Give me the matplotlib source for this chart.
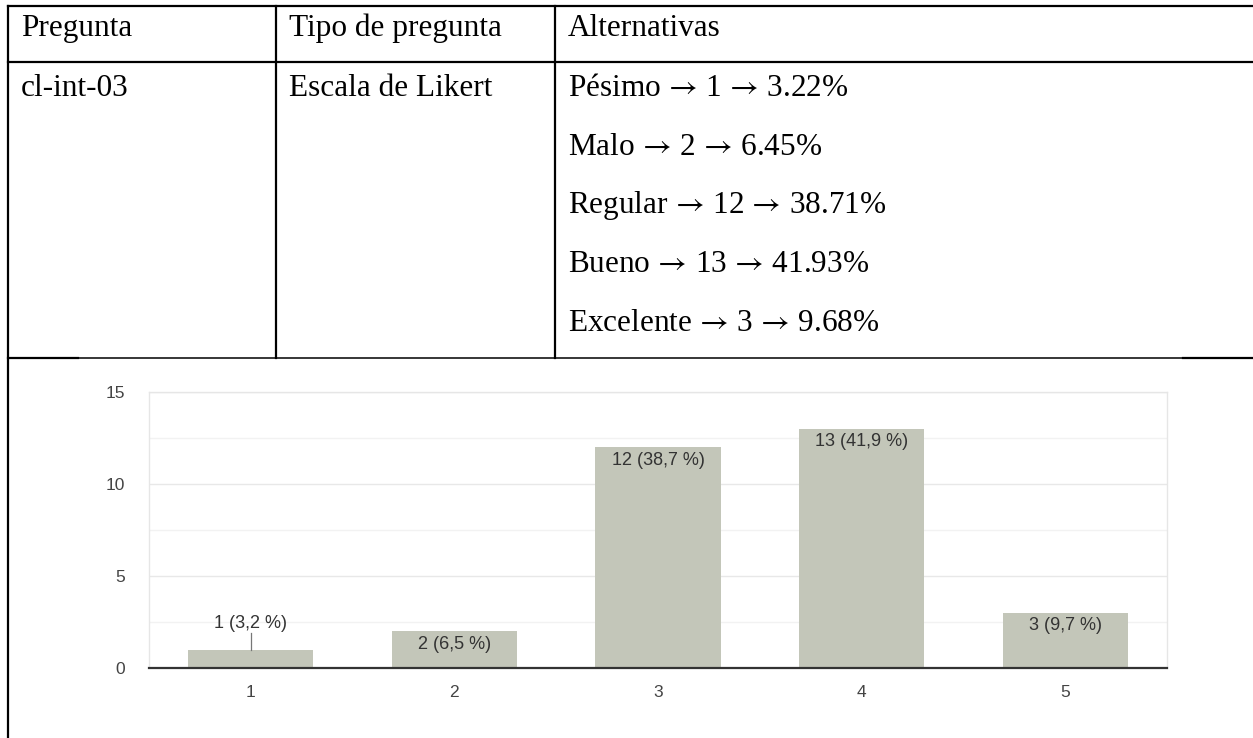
import matplotlib
matplotlib.use('Agg')
import matplotlib.pyplot as plt

plt.rcParams['mathtext.fontset'] = 'stix'

# table content
header = ["Pregunta", "Tipo de pregunta", "Alternativas"]
question_id = "cl-int-03"
question_type = "Escala de Likert"
alt_names = ["Pésimo", "Malo", "Regular", "Bueno", "Excelente"]
alt_counts = [1, 2, 12, 13, 3]
alt_percents = ["3.22", "6.45", "38.71", "41.93", "9.68"]

# chart content
categories = ["1", "2", "3", "4", "5"]
counts = [1, 2, 12, 13, 3]
chart_percents = ["3,2", "6,5", "38,7", "41,9", "9,7"]

W, H = 1253, 738
fig = plt.figure(figsize=(W / 100.0, H / 100.0), dpi=100)
fig.patch.set_facecolor('white')

serif = ['Liberation Serif', 'DejaVu Serif']
sans = ['Liberation Sans', 'DejaVu Sans']
bar_color = '#c3c6b9'

# ---- bar chart (google forms style) ----
x0, x1, y0, y1 = 149, 1167, 668, 392
ax = fig.add_axes([x0 / W, (H - y0) / H, (x1 - x0) / W, (y0 - y1) / H])
pos = range(1, len(categories) + 1)
bars = ax.bar(pos, counts, width=0.615, color=bar_color, edgecolor='none', zorder=2)

ax.set_xlim(0.5, len(categories) + 0.5)
ax.set_ylim(0, 15)
ax.set_yticks([0, 5, 10, 15])
ax.set_yticks([2.5, 7.5, 12.5], minor=True)
ax.set_xticks(list(pos))
ax.set_xticklabels(categories)
ax.grid(axis='y', which='major', color='#e8e8e8', lw=1.0, zorder=0)
ax.grid(axis='y', which='minor', color='#f2f2f2', lw=1.0, zorder=0)
ax.tick_params(axis='both', which='both', length=0, labelsize=12.5,
               labelcolor='#444444')
ax.tick_params(axis='y', pad=17)
ax.tick_params(axis='x', pad=12)
for lbl in ax.get_xticklabels() + ax.get_yticklabels():
    lbl.set_family(sans)
for side in ('top', 'left', 'right'):
    ax.spines[side].set_color('#e6e6e6')
    ax.spines[side].set_linewidth(1.0)
ax.spines['bottom'].set_color('#333333')
ax.spines['bottom'].set_linewidth(1.6)
ax.spines['bottom'].set_zorder(3)

px = 15.0 / (y0 - y1)  # data units per pixel
for i, (p, c) in enumerate(zip(pos, counts)):
    txt = "%d (%s %%)" % (c, chart_percents[i])
    if c * (1 / px) < 30:
        if i == 0:
            # label above with leader line
            ax.text(p, c + 26 * px, txt, ha='center', va='center', fontsize=13,
                    family=sans, color='#333333')
            ax.plot([p, p], [c + 17 * px, c], color='#777777', lw=0.9, zorder=3)
        else:
            ax.text(p, c - 9 * px, txt, ha='center', va='center', fontsize=13,
                    family=sans, color='#333333', zorder=4)
    else:
        ax.text(p, c - 13 * px, txt, ha='center', va='center', fontsize=13,
                family=sans, color='#333333', zorder=4)

# ---- table overlay in pixel coordinates ----
tab = fig.add_axes([0, 0, 1, 1], zorder=5)
tab.set_xlim(0, W)
tab.set_ylim(H, 0)
tab.axis('off')
tab.patch.set_alpha(0)

lw = 1.6
col_x = [8, 276, 555]
top_y, head_y, body_y = 6, 62, 358
tab.plot([8, W], [top_y, top_y], color='black', lw=lw)
tab.plot([8, W], [head_y, head_y], color='black', lw=lw)
tab.plot([8, 78], [body_y, body_y], color='black', lw=lw)
tab.plot([78, 1183], [body_y, body_y], color='black', lw=1.1)
tab.plot([1183, W], [body_y, body_y], color='black', lw=lw)
tab.plot([8, 8], [top_y, H], color='black', lw=lw)
for cx in col_x[1:]:
    tab.plot([cx, cx], [top_y, body_y], color='black', lw=lw)

fs = 22.5
pad = 13
for cx, t in zip(col_x, header):
    tab.text(cx + pad, 36, t, ha='left', va='baseline', fontsize=fs, family=serif)
tab.text(col_x[0] + pad, 96, question_id, ha='left', va='baseline', fontsize=fs,
         family=serif)
tab.text(col_x[1] + pad, 96, question_type, ha='left', va='baseline', fontsize=fs,
         family=serif)
arrow = r'$\,\rightarrow\,$'
for i, name in enumerate(alt_names):
    line = "%s%s%d%s%s%%" % (name, arrow, alt_counts[i], arrow, alt_percents[i])
    tab.text(col_x[2] + pad, 96 + i * 58.7, line, ha='left', va='baseline',
             fontsize=fs, family=serif)

fig.savefig('out.png', dpi=100, facecolor='white')
